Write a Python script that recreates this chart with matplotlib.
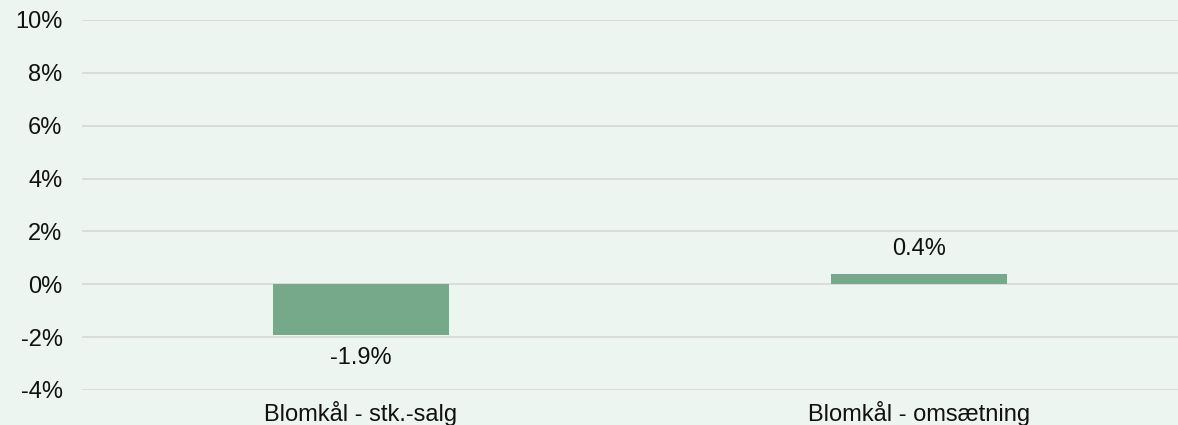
import matplotlib
matplotlib.use("Agg")
import matplotlib.pyplot as plt
import numpy as np

# Values in percent
categories = ["Blomkål - stk.-salg", "Blomkål - omsætning"]
changes = [-1.9, 0.4]
yticks = [-4, -2, 0, 2, 4, 6, 8, 10]

bg = "#edf5f0"
bar_color = "#76a98a"
grid_color = "#d9d9d9"
txt = "#111111"

plt.rcParams["font.family"] = ["Liberation Sans", "DejaVu Sans"]

fig = plt.figure(figsize=(11.78, 4.25), dpi=100, facecolor=bg)
ax = fig.add_axes([82 / 1178, 35 / 425, 1096 / 1178, 370 / 425])
ax.set_facecolor(bg)

x = np.arange(len(categories))
bars = ax.bar(x, changes, width=0.314, color=bar_color, zorder=3)

# data labels above positive bars, below negative ones
for xi, v in zip(x, changes):
    off = 18 if v >= 0 else -17
    ax.annotate(f"{v:.1f}%", (xi, v), xytext=(0, off), textcoords="offset points",
                ha="center", va="center", fontsize=17, color=txt)

ax.set_xlim(-0.5, -0.5 + 1096 / 558)
ax.set_ylim(-4, 10)
ax.set_yticks(yticks)
ax.set_yticklabels([f"{t}%" for t in yticks], fontsize=17, color=txt)
ax.set_xticks(x)
ax.set_xticklabels(categories, fontsize=17, color=txt)
ax.tick_params(axis="both", length=0)
ax.tick_params(axis="y", pad=14)
ax.tick_params(axis="x", pad=8)
ax.grid(axis="y", color=grid_color, linewidth=1.3, zorder=0)
for s in ax.spines.values():
    s.set_visible(False)

fig.savefig("out.png", dpi=100, facecolor=bg)
